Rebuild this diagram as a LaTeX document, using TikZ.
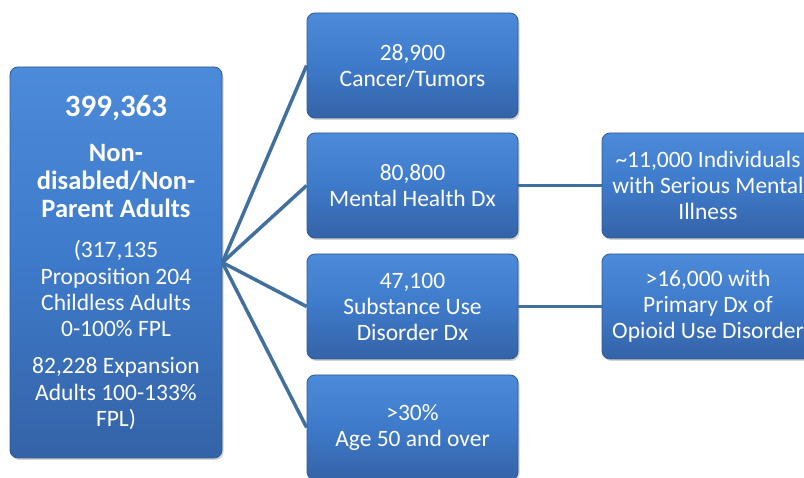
\documentclass[tikz,border=0pt]{standalone}
\usepackage{fontspec}
\setmainfont{Carlito}
\usetikzlibrary{shadows}

\definecolor{boxtop}{HTML}{4C8BD9}
\definecolor{boxmid}{HTML}{3E7ACA}
\definecolor{boxbot}{HTML}{3463A7}
\definecolor{boxedge}{HTML}{2F5B95}
\definecolor{linkblue}{HTML}{41709F}

\begin{document}
\begin{tikzpicture}[x=1pt,y=-1pt,
  box/.style={rectangle, rounded corners=8pt, draw=boxedge, line width=0.8pt,
    top color=boxtop, bottom color=boxbot, middle color=boxmid,
    text=white, align=center, inner sep=0pt,
    font=\fontsize{23.5}{26}\selectfont,
    drop shadow={opacity=0.35, shadow xshift=1.5pt, shadow yshift=-2pt}},
  midbox/.style={box, minimum width=211pt, minimum height=105pt},
  link/.style={draw=linkblue, line width=3.5pt}]
\clip (0,0) rectangle (804,478);

\node[box, align=flush center, text width=200pt, minimum width=212pt, minimum height=391pt] (adults) at (116,262.5) {%
{\fontsize{31}{31}\selectfont\bfseries 399,363\par}
\vspace{16.7pt}
{\fontsize{26.5}{28.3}\selectfont\bfseries Non-\\disabled/Non-\\Parent Adults\par}
\vspace{13.7pt}
{\fontsize{23.5}{26.3}\selectfont (317,135\\Proposition 204\\Childless Adults\\0-100\% FPL\par}
\vspace{10.2pt}
{\fontsize{23.5}{26.5}\selectfont 82,228 Expansion\\Adults 100-133\%\\FPL)\par}};

\node[midbox] (cancer) at (412.5,65.5) {28,900\\Cancer/Tumors};
\node[midbox] (mental) at (412.5,185.5) {80,800\\Mental Health Dx};
\node[midbox] (subst) at (412.5,306.5) {47,100\\Substance Use\\Disorder Dx};
\node[midbox] (age) at (412.5,427.5) {>30\%\\Age 50 and over};

\node[box, minimum width=212pt, minimum height=105pt] (smi) at (708,185.5) {\textasciitilde 11,000 Individuals\\with Serious Mental\\Illness};
\node[box, minimum width=212pt, minimum height=105pt] (opioid) at (708,306.5) {>16,000 with\\Primary Dx of\\Opioid Use Disorder};

\draw[link] (adults.east) -- (cancer.west);
\draw[link] (adults.east) -- (mental.west);
\draw[link] (adults.east) -- (subst.west);
\draw[link] (adults.east) -- (age.west);
\draw[link] (mental.east) -- (smi.west);
\draw[link] (subst.east) -- (opioid.west);
\end{tikzpicture}
\end{document}
